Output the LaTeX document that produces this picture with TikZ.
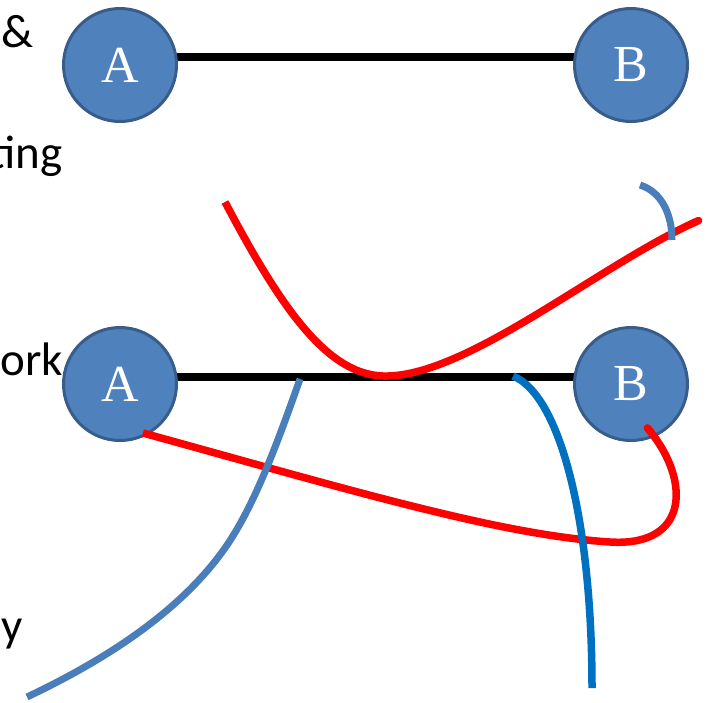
\documentclass[tikz,border=0pt]{standalone}
\usepackage{fontspec}
\setmainfont{Carlito}
\newfontfamily\nodefont{Liberation Serif}
\usetikzlibrary{arrows.meta,backgrounds}
\definecolor{nodefill}{HTML}{4F81BD}
\definecolor{nodeline}{HTML}{385D8A}
\definecolor{steelline}{HTML}{4A7EBB}
\definecolor{darkblueline}{HTML}{0070C0}
\definecolor{redline}{HTML}{FF0000}
\tikzset{
  host/.style={circle, fill=nodefill, draw=nodeline, line width=3pt,
    minimum size=113pt, inner sep=0pt, text=white,
    font=\nodefont\fontsize{52}{52}\selectfont},
  link/.style={line width=8pt, black},
  txt/.style={font=\fontsize{47}{47}\selectfont, inner sep=0pt, anchor=base east},
  redpath/.style={draw=redline, line width=7.5pt, line cap=butt, -{Round Cap[]}},
  steelpath/.style={draw=steelline, line width=7pt, line cap=butt},
  darkpath/.style={draw=darkblueline, line width=7.5pt, line cap=butt},
}
\begin{document}
\begin{tikzpicture}[x=1pt,y=-1pt]
\useasboundingbox (0,0) rectangle (711,702);

% text fragments
\node[txt] (t1) at (34,47) {\&};
\node[txt] (t2) at (63,168) {ting};
\node[txt] (t3) at (63,375) {ork};
\node[txt] (t4) at (23,641) {y};

% hosts
\node[host] (A1) at (120,65) {A};
\node[host] (B1) at (631,65) {B};
\node[host] (A2) at (120,384) {A};
\node[host] (B2) at (631,384) {B};

\begin{pgfonlayer}{background}
\draw[link] ([yshift=8pt]A1.center) -- ([yshift=8pt]B1.center);
\draw[link] ([yshift=7pt]A2.center) -- ([yshift=7pt]B2.center);
\end{pgfonlayer}

% red curve above the lower link
\coordinate (r1s) at (225,202);
\coordinate (r1m) at (388,376);
\coordinate (r1e) at (702,219);
\draw[redpath] (r1s) .. controls (283,312) and (330,378) .. (r1m)
  .. controls (470,374) and (600,265) .. (r1e);

% red curve from A to B below
\coordinate (rs) at (143,433);
\coordinate (rm) at (610,542);
\coordinate (re) at (645,425);
\draw[redpath] (rs) .. controls (350,490) and (500,535) .. (rm)
  .. controls (690,547) and (690,480) .. (re);

% blue curves drawn over the red ones
\coordinate (s1) at (640,185);
\coordinate (s2) at (672,240);
\draw[steelpath] (s1) .. controls (662,192) and (672,215) .. (s2);

\coordinate (l1) at (300,379);
\coordinate (l2) at (225,548);
\coordinate (l3) at (27,697);
\draw[steelpath] (l1) .. controls (275,450) and (253,508) .. (l2)
  .. controls (180,612) and (105,660) .. (l3);

\coordinate (d1) at (513,376);
\coordinate (d2) at (592,688);
\draw[darkpath] (d1) .. controls (560,395) and (592,520) .. (d2);
\end{tikzpicture}
\end{document}
